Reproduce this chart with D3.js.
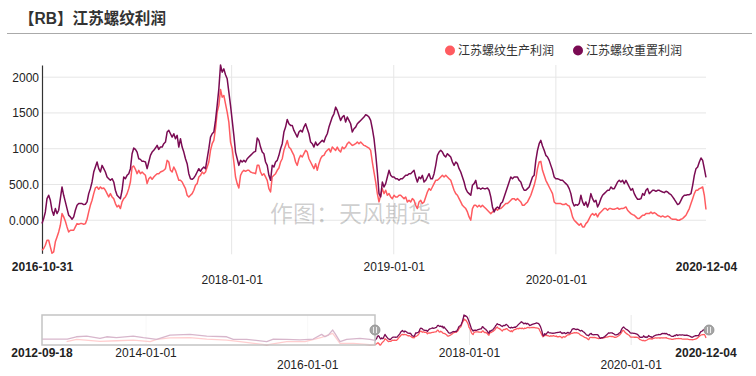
<!DOCTYPE html>
<html><head><meta charset="utf-8">
<script src="https://cdn.jsdelivr.net/npm/d3@7/dist/d3.min.js"></script>
<style>html,body{margin:0;padding:0;background:#fff;} svg{display:block;font-family:"Liberation Sans",Arial,"Noto Sans CJK SC",sans-serif;}</style>
</head><body><svg id="c" width="756" height="376"></svg>
<script>
// ---------------- data ----------------
const chartTitle = "【RB】江苏螺纹利润";
const seriesNames = ["江苏螺纹生产利润", "江苏螺纹重置利润"];
const watermarkText = "作图：天风期货";
const mainStart = "2016-10-31";
const mainEnd = "2020-12-04";
const navStart = "2012-09-18";

// 江苏螺纹生产利润 (evenly sampled from 2016-10-31 to 2020-12-04)
const prodProfit = [
-419,-395,-349,-279,-279,-372,-462,-442,-302,-233,
-163,-70,93,47,-14,-93,-163,-140,-140,-140,
-93,-47,-56,-47,-47,-56,-47,14,116,209,
279,372,451,465,433,465,442,451,419,372,
326,372,326,302,233,186,209,163,256,302,
326,372,442,535,744,758,712,651,698,651,
674,651,628,512,581,605,572,605,628,651,
651,674,684,698,721,837,814,698,674,744,
698,628,558,558,535,488,442,349,326,349,
372,419,488,512,605,628,674,651,
674,744,814,977,1070,1116,1279,1512,1605,1828,
1721,1744,1628,1512,1372,1093,1000,814,605,512,
451,628,674,698,684,698,698,674,665,660,
651,767,767,674,628,651,605,558,442,395,
605,628,651,698,730,814,860,977,1046,1116,
1023,1000,953,907,814,767,860,907,884,930,
977,953,860,814,767,721,791,698,791,860,
898,907,953,977,1000,953,1023,1000,977,1023,
977,953,1023,1000,1023,1070,1093,1070,1046,1056,
1070,1093,1070,1093,1070,1046,1037,1023,1009,
977,814,674,535,372,256,349,442,372,419,
349,372,326,302,349,326,326,349,349,326,
302,326,256,279,256,302,279,209,163,256,
279,233,256,326,395,442,419,465,512,558,
558,581,605,628,605,628,605,581,558,488,
419,372,349,302,256,209,186,163,116,47,
0,163,209,209,186,209,186,209,186,163,
140,116,93,116,140,163,140,163,163,186,
209,233,233,256,279,302,302,279,302,279,
256,209,209,233,256,302,349,419,488,
581,721,814,823,698,628,558,512,465,419,
372,256,233,233,233,233,219,219,233,209,
200,140,47,0,-23,-47,-70,-47,-93,-93,
-47,-23,23,70,93,70,93,47,93,116,
140,163,163,140,163,163,153,153,163,172,
153,163,163,172,186,140,116,93,79,70,
47,23,23,47,70,70,93,93,93,116,
93,107,93,70,60,47,60,47,47,60,
47,23,14,14,14,0,0,14,23,47,
70,116,163,233,302,372,419,419,442,451,
465,349,150
];

// 江苏螺纹重置利润 (same sampling)
const resetProfit = [
-47,23,116,302,349,279,140,70,163,93,
140,302,465,349,256,163,70,47,14,47,
140,209,233,233,233,219,223,256,372,442,
535,674,744,814,721,674,767,721,674,605,
581,558,581,535,419,349,326,302,419,605,
581,628,651,721,930,1009,991,953,860,851,
823,823,814,721,814,907,953,977,1009,1046,
991,1023,1023,1070,1093,1233,1256,1209,1163,1209,
1140,1186,1023,1140,1023,953,860,791,651,581,
572,591,628,674,721,684,721,744,
721,860,1000,1163,1209,1233,1395,1605,1837,2170,
2070,2116,2033,1977,1791,1605,1395,1186,953,860,
767,837,814,837,814,860,884,907,930,953,
963,1149,1116,1023,953,930,814,767,628,558,
767,744,814,837,907,1000,1070,1233,1302,1409,
1349,1326,1326,1256,1209,1163,1233,1256,1233,1302,
1349,1279,1209,1093,1070,1023,1093,1046,1070,1093,
1116,1093,1163,1209,1302,1372,1442,1488,1581,1535,
1465,1395,1442,1465,1372,1442,1395,1349,1233,1279,
1302,1349,1372,1395,1419,1442,1474,1465,1442,
1395,1279,1140,930,674,372,326,535,465,512,
605,698,628,605,605,581,581,558,581,581,
605,628,628,651,651,674,698,605,535,605,
581,628,535,558,605,651,581,581,651,767,
907,953,977,953,907,884,930,907,884,814,
767,814,791,721,674,605,535,442,395,372,
349,488,512,558,442,451,433,451,442,442,
451,419,326,186,116,163,186,163,233,256,
326,395,465,535,605,581,605,605,605,558,
535,465,419,419,442,465,535,605,628,
837,977,1070,1116,1037,977,907,884,837,767,
698,605,581,581,572,558,558,535,512,488,
442,372,256,200,219,209,233,349,256,209,
256,186,256,372,302,256,279,186,233,302,
349,372,395,419,419,465,442,442,488,535,
558,535,558,512,558,512,465,419,442,372,
326,293,293,302,372,349,419,442,372,395,
419,419,405,419,419,405,395,386,405,395,
372,358,326,293,256,219,233,279,326,349,
349,358,358,372,488,628,721,744,814,870,
837,721,600
];

// earlier history (only visible in the navigator)
const histProdDates = ["2013-01-07","2013-02-22","2013-06-07","2013-08-21","2013-11-04","2014-01-20","2014-02-18","2014-04-19","2014-07-18","2014-10-02","2014-12-31","2015-03-01","2015-06-30","2015-09-28","2015-12-20","2016-03-04","2016-04-23","2016-05-26","2016-07-25","2016-10-08"];
const histProdValues = [-170,30,-140,-90,-30,-170,30,170,180,60,-30,-170,-460,-170,-170,200,560,-320,-320,-440];
const histResetDates = ["2012-09-18","2012-12-01","2013-01-10","2013-02-20","2013-04-08","2013-06-07","2013-07-07","2013-08-20","2013-11-04","2013-12-20","2014-02-18","2014-04-19","2014-07-18","2014-10-02","2014-12-31","2015-01-30","2015-03-31","2015-06-30","2015-07-30","2015-09-28","2015-11-27","2016-01-26","2016-03-04","2016-03-19","2016-04-03","2016-04-23","2016-05-03","2016-05-26","2016-06-25","2016-08-24","2016-10-08"];
const histResetValues = [60,60,60,260,320,120,260,180,320,180,40,410,470,320,260,40,40,-170,60,40,-20,60,470,260,410,850,560,-170,40,120,40];

const yTickValues = [0, 500, 1000, 1500, 2000];
const yTickLabels = ["0.000", "500.0", "1000", "1500", "2000"];
const xTickDates = ["2016-10-31", "2018-01-01", "2019-01-01", "2020-01-01", "2020-12-04"];
const navTickDates = ["2012-09-18", "2014-01-01", "2016-01-01", "2018-01-01", "2020-01-01", "2020-12-04"];

// ---------------- drawing ----------------
const colors = ["#ff5b60", "#7a0b53"];
const parse = d3.timeParse("%Y-%m-%d");
const fmt = d3.timeFormat("%Y-%m-%d");
const t0 = parse(mainStart), t1 = parse(mainEnd);
const n = prodProfit.length;
const mainDates = d3.range(n).map(i => new Date(+t0 + i * (t1 - t0) / (n - 1)));
const prodMain = mainDates.map((d, i) => ({date: d, v: prodProfit[i]}));
const resetMain = mainDates.map((d, i) => ({date: d, v: resetProfit[i]}));
const prodHist = histProdDates.map((d, i) => ({date: parse(d), v: histProdValues[i]}));
const resetHist = histResetDates.map((d, i) => ({date: parse(d), v: histResetValues[i]}));

const svg = d3.select("#c");
const L = 42, R = 706, T = 65, B = 253.3;

// title
svg.append("text").attr("x", 19).attr("y", 24).attr("font-size", 16).attr("font-weight", "bold")
  .attr("fill", "#333").attr("textLength", 147).attr("lengthAdjust", "spacingAndGlyphs").text(chartTitle);
svg.append("line").attr("x1", 7).attr("x2", 752).attr("y1", 33.5).attr("y2", 33.5)
  .attr("stroke", "#aaa").attr("stroke-width", 1.2);

// legend
const legX = [450, 578];
seriesNames.forEach((s, i) => {
  svg.append("circle").attr("cx", legX[i]).attr("cy", 50.5).attr("r", 5).attr("fill", colors[i]);
  svg.append("text").attr("x", legX[i] + 8).attr("y", 55).attr("font-size", 12).attr("fill", "#333").text(s);
});

const x = d3.scaleTime().domain([t0, t1]).range([L, R]);
const allMain = prodMain.concat(resetMain);
const y = d3.scaleLinear().domain(d3.extent(allMain, d => d.v)).range([B, T]);

// grid
svg.append("g").selectAll("line").data(yTickValues).join("line")
  .attr("x1", L).attr("x2", R).attr("y1", d => y(d)).attr("y2", d => y(d))
  .attr("stroke", "#e6e6e6").attr("stroke-width", 1);
svg.append("g").selectAll("line").data(xTickDates.slice(1, -1).map(parse)).join("line")
  .attr("x1", d => x(d)).attr("x2", d => x(d)).attr("y1", T).attr("y2", B + 1)
  .attr("stroke", "#e6e6e6").attr("stroke-width", 1);

// watermark
svg.append("text").attr("x", 270).attr("y", 222).attr("font-size", 23)
  .attr("font-family", "'Noto Sans CJK SC',sans-serif").attr("fill", "#000").attr("fill-opacity", 0.2)
  .text(watermarkText);

// y axis
const yAxis = svg.append("g").attr("transform", `translate(${L},0)`)
  .call(d3.axisLeft(y).tickValues(yTickValues).tickFormat((d, i) => yTickLabels[i]).tickSize(0).tickSizeOuter(0).tickPadding(3));
yAxis.select(".domain").attr("stroke", "#333").attr("stroke-width", 1.2);
yAxis.selectAll("text").attr("font-size", 12).attr("fill", "#222").attr("font-family", "'Liberation Sans',Arial,sans-serif");

// x axis
const xRows = [0, 1, 0, 1, 0];
const xAxis = svg.append("g").attr("transform", `translate(0,${B})`)
  .call(d3.axisBottom(x).tickValues(xTickDates.map(parse)).tickFormat(fmt).tickSize(0));
xAxis.select(".domain").remove();
xAxis.selectAll("text").attr("font-size", 12).attr("fill", "#222").attr("dy", 0)
  .attr("font-family", "'Liberation Sans',Arial,sans-serif")
  .attr("y", (d, i) => xRows[i] ? 30.5 : 18)
  .attr("font-weight", (d, i) => (i === 0 || i === xTickDates.length - 1) ? "bold" : "normal");

// lines
const line = d3.line().x(d => x(d.date)).y(d => y(d.v));
[prodMain, resetMain].forEach((s, i) => {
  svg.append("path").datum(s).attr("d", line).attr("fill", "none")
    .attr("stroke", colors[i]).attr("stroke-width", 1.5).attr("stroke-linejoin", "round");
});

// navigator
const NT = 315, NB = 345;
const xn = d3.scaleTime().domain([parse(navStart), t1]).range([L, R]);
const prodAll = prodHist.concat(prodMain), resetAll = resetHist.concat(resetMain);
const yn = d3.scaleLinear().domain(d3.extent(prodAll.concat(resetAll), d => d.v)).range([NB, NT]);
svg.append("g").selectAll("line").data(navTickDates.slice(1, -1).map(parse)).join("line")
  .attr("x1", d => xn(d)).attr("x2", d => xn(d)).attr("y1", NT).attr("y2", NB)
  .attr("stroke", "#e8e8e8").attr("stroke-width", 1);
const nline = d3.line().x(d => xn(d.date)).y(d => yn(d.v));
[prodAll, resetAll].forEach((s, i) => {
  svg.append("path").datum(s).attr("d", nline).attr("fill", "none")
    .attr("stroke", colors[i]).attr("stroke-width", 1.3).attr("stroke-linejoin", "round");
});
const xs = xn(t0);
svg.append("rect").attr("x", L).attr("y", NT).attr("width", xs - L).attr("height", NB - NT)
  .attr("fill", "#fff").attr("fill-opacity", 0.7);
svg.append("rect").attr("x", L).attr("y", NT).attr("width", xs - L).attr("height", NB - NT)
  .attr("fill", "none").attr("stroke", "#c4c4c4").attr("stroke-width", 1.5);
[xs, R + 3].forEach(hx => {
  const g = svg.append("g").attr("transform", `translate(${hx},330)`);
  g.append("circle").attr("r", 5).attr("fill", "#a6a6a6").attr("stroke", "#8c8c8c").attr("stroke-width", 0.8);
  g.append("line").attr("x1", -1.5).attr("x2", -1.5).attr("y1", -3).attr("y2", 3).attr("stroke", "#fff").attr("stroke-width", 0.8);
  g.append("line").attr("x1", 1.5).attr("x2", 1.5).attr("y1", -3).attr("y2", 3).attr("stroke", "#fff").attr("stroke-width", 0.8);
});
const navRows = [0, 0, 1, 0, 1, 0];
svg.append("g").selectAll("text").data(navTickDates).join("text")
  .attr("x", d => xn(parse(d))).attr("y", (d, i) => navRows[i] ? 368.5 : 357)
  .attr("text-anchor", "middle").attr("font-size", 12).attr("fill", "#222")
  .attr("font-family", "'Liberation Sans',Arial,sans-serif")
  .attr("font-weight", (d, i) => (i === 0 || i === navTickDates.length - 1) ? "bold" : "normal")
  .text(d => d);
</script></body></html>
